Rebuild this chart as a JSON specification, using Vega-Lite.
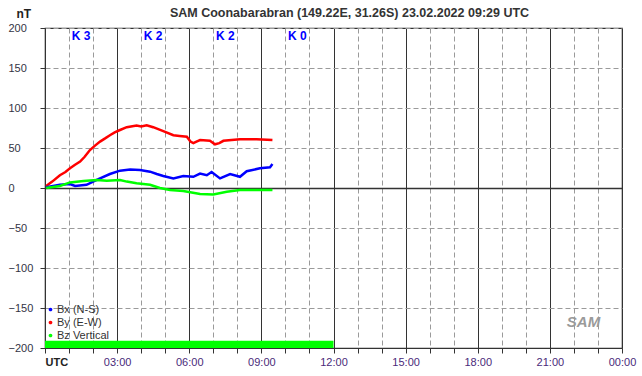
{
  "$schema": "https://vega.github.io/schema/vega-lite/v6.json",
  "width": 577,
  "height": 320,
  "autosize": {"type": "none"},
  "padding": {"left": 45, "top": 28, "right": 20, "bottom": 28},
  "background": "white",
  "title": {
    "text": "SAM Coonabarabran (149.22E, 31.26S) 23.02.2022 09:29 UTC",
    "anchor": "middle",
    "dx": 16,
    "offset": -12,
    "font": "Liberation Sans",
    "fontSize": 12.5,
    "fontWeight": "bold",
    "color": "#333333"
  },
  "config": {
    "view": {"stroke": "#333333", "strokeWidth": 1.2},
    "font": "Liberation Sans"
  },
  "datasets": {
    "series": [
      {"h": 0.05, "v": 2.5, "c": "By (E-W)"},
      {"h": 0.3, "v": 8, "c": "By (E-W)"},
      {"h": 0.62, "v": 16, "c": "By (E-W)"},
      {"h": 0.85, "v": 20, "c": "By (E-W)"},
      {"h": 1.04, "v": 24.6, "c": "By (E-W)"},
      {"h": 1.25, "v": 29, "c": "By (E-W)"},
      {"h": 1.46, "v": 33, "c": "By (E-W)"},
      {"h": 1.65, "v": 39, "c": "By (E-W)"},
      {"h": 1.87, "v": 47.5, "c": "By (E-W)"},
      {"h": 2.08, "v": 53, "c": "By (E-W)"},
      {"h": 2.29, "v": 58, "c": "By (E-W)"},
      {"h": 2.5, "v": 62, "c": "By (E-W)"},
      {"h": 2.7, "v": 66, "c": "By (E-W)"},
      {"h": 2.9, "v": 69.5, "c": "By (E-W)"},
      {"h": 3.12, "v": 72.5, "c": "By (E-W)"},
      {"h": 3.4, "v": 76, "c": "By (E-W)"},
      {"h": 3.81, "v": 78, "c": "By (E-W)"},
      {"h": 4.0, "v": 77, "c": "By (E-W)"},
      {"h": 4.23, "v": 78.5, "c": "By (E-W)"},
      {"h": 4.5, "v": 76, "c": "By (E-W)"},
      {"h": 4.92, "v": 71, "c": "By (E-W)"},
      {"h": 5.34, "v": 66, "c": "By (E-W)"},
      {"h": 5.6, "v": 65, "c": "By (E-W)"},
      {"h": 5.9, "v": 64, "c": "By (E-W)"},
      {"h": 6.05, "v": 58, "c": "By (E-W)"},
      {"h": 6.17, "v": 56, "c": "By (E-W)"},
      {"h": 6.3, "v": 58, "c": "By (E-W)"},
      {"h": 6.45, "v": 60, "c": "By (E-W)"},
      {"h": 6.86, "v": 59, "c": "By (E-W)"},
      {"h": 7.07, "v": 54.6, "c": "By (E-W)"},
      {"h": 7.25, "v": 56, "c": "By (E-W)"},
      {"h": 7.42, "v": 59, "c": "By (E-W)"},
      {"h": 8.11, "v": 61, "c": "By (E-W)"},
      {"h": 8.8, "v": 61, "c": "By (E-W)"},
      {"h": 9.46, "v": 60, "c": "By (E-W)"},
      {"h": 0.05, "v": 1, "c": "Bx (N-S)"},
      {"h": 0.62, "v": 4, "c": "Bx (N-S)"},
      {"h": 1.04, "v": 5, "c": "Bx (N-S)"},
      {"h": 1.25, "v": 2.5, "c": "Bx (N-S)"},
      {"h": 1.73, "v": 4, "c": "Bx (N-S)"},
      {"h": 2.0, "v": 8, "c": "Bx (N-S)"},
      {"h": 2.29, "v": 12, "c": "Bx (N-S)"},
      {"h": 2.7, "v": 17.5, "c": "Bx (N-S)"},
      {"h": 3.12, "v": 21.7, "c": "Bx (N-S)"},
      {"h": 3.54, "v": 23, "c": "Bx (N-S)"},
      {"h": 3.95, "v": 22.5, "c": "Bx (N-S)"},
      {"h": 4.37, "v": 20.4, "c": "Bx (N-S)"},
      {"h": 4.65, "v": 17.5, "c": "Bx (N-S)"},
      {"h": 4.92, "v": 15, "c": "Bx (N-S)"},
      {"h": 5.34, "v": 12, "c": "Bx (N-S)"},
      {"h": 5.75, "v": 15, "c": "Bx (N-S)"},
      {"h": 6.17, "v": 14, "c": "Bx (N-S)"},
      {"h": 6.45, "v": 18, "c": "Bx (N-S)"},
      {"h": 6.73, "v": 16, "c": "Bx (N-S)"},
      {"h": 6.93, "v": 20, "c": "Bx (N-S)"},
      {"h": 7.28, "v": 12, "c": "Bx (N-S)"},
      {"h": 7.7, "v": 17.5, "c": "Bx (N-S)"},
      {"h": 8.11, "v": 14, "c": "Bx (N-S)"},
      {"h": 8.39, "v": 21, "c": "Bx (N-S)"},
      {"h": 8.94, "v": 24.6, "c": "Bx (N-S)"},
      {"h": 9.36, "v": 26, "c": "Bx (N-S)"},
      {"h": 9.46, "v": 30, "c": "Bx (N-S)"},
      {"h": 0.05, "v": 0, "c": "Bz Vertical"},
      {"h": 0.62, "v": 2.5, "c": "Bz Vertical"},
      {"h": 1.04, "v": 7, "c": "Bz Vertical"},
      {"h": 1.6, "v": 8.75, "c": "Bz Vertical"},
      {"h": 2.15, "v": 10, "c": "Bz Vertical"},
      {"h": 2.57, "v": 9, "c": "Bz Vertical"},
      {"h": 3.12, "v": 10, "c": "Bz Vertical"},
      {"h": 3.4, "v": 8, "c": "Bz Vertical"},
      {"h": 3.81, "v": 6, "c": "Bz Vertical"},
      {"h": 4.37, "v": 4, "c": "Bz Vertical"},
      {"h": 4.78, "v": 0, "c": "Bz Vertical"},
      {"h": 5.2, "v": -2.5, "c": "Bz Vertical"},
      {"h": 5.75, "v": -3.75, "c": "Bz Vertical"},
      {"h": 6.45, "v": -7.5, "c": "Bz Vertical"},
      {"h": 7.0, "v": -8, "c": "Bz Vertical"},
      {"h": 7.56, "v": -4.6, "c": "Bz Vertical"},
      {"h": 8.11, "v": -2.5, "c": "Bz Vertical"},
      {"h": 8.8, "v": -2.5, "c": "Bz Vertical"},
      {"h": 9.46, "v": -2.5, "c": "Bz Vertical"}
    ],
    "klabels": [
      {"h": 1.5, "v": 190, "k": "K 3"},
      {"h": 4.5, "v": 190, "k": "K 2"},
      {"h": 7.5, "v": 190, "k": "K 2"},
      {"h": 10.5, "v": 190, "k": "K 0"}
    ],
    "bar": [
      {"h": 0, "h2": 12, "v": -200, "v2": -191}
    ],
    "logo": [
      {"h": 22.4, "v": -168, "t": "SAM"}
    ]
  },
  "encoding": {
    "x": {
      "field": "h",
      "type": "quantitative",
      "scale": {"domain": [0, 24], "nice": false, "zero": false},
      "axis": {
        "title": null,
        "values": [0,1,2,3,4,5,6,7,8,9,10,11,12,13,14,15,16,17,18,19,20,21,22,23,24],
        "grid": true,
        "gridColor": {"condition": {"test": "datum.value % 3 == 0", "value": "#333333"}, "value": "#9a9a9a"},
        "gridDash": {"condition": {"test": "datum.value % 3 == 0", "value": []}, "value": [5, 3]},
        "gridWidth": 1,
        "domainColor": "#333333",
        "tickColor": "#333333",
        "tickSize": 5,
        "labelExpr": "datum.value == 0 ? 'UTC' : (datum.value % 3 == 0 ? (datum.value == 24 ? '00:00' : (datum.value < 10 ? '0' : '') + datum.value + ':00') : '')",
        "labelAlign": {"condition": {"test": "datum.value == 0", "value": "left"}, "value": "center"},
        "labelFontWeight": {"condition": {"test": "datum.value == 0", "value": "bold"}, "value": "normal"},
        "labelColor": {"condition": {"test": "datum.value == 0", "value": "#222222"}, "value": "#4a2a7a"},
        "labelFont": "Liberation Sans",
        "labelFontSize": 11,
        "labelPadding": 3,
        "labelFlush": false,
        "labelOverlap": false
      }
    },
    "y": {
      "field": "v",
      "type": "quantitative",
      "scale": {"domain": [-200, 200], "nice": false, "zero": false},
      "axis": {
        "title": "nT",
        "titleAngle": 0,
        "titleAlign": "left",
        "titleBaseline": "middle",
        "titleX": -29,
        "titleY": -15,
        "titleFont": "Liberation Sans",
        "titleFontSize": 12,
        "titleFontWeight": "bold",
        "titleColor": "#222222",
        "values": [-200, -150, -100, -50, 0, 50, 100, 150, 200],
        "grid": true,
        "gridColor": {"condition": {"test": "datum.value == 0", "value": "#333333"}, "value": "#9a9a9a"},
        "gridDash": {"condition": {"test": "datum.value == 0", "value": []}, "value": [5, 3]},
        "gridWidth": {"condition": {"test": "datum.value == 0", "value": 1.5}, "value": 1},
        "domainColor": "#333333",
        "tickColor": "#333333",
        "tickSize": 5,
        "labelAlign": "left",
        "labelPadding": 32,
        "labelFont": "Liberation Sans",
        "labelFontSize": 11,
        "labelColor": "#333344",
        "labelFlush": false,
        "labelOverlap": false
      }
    }
  },
  "layer": [
    {
      "data": {"name": "bar"},
      "mark": {"type": "rect", "color": "#00ff00"},
      "encoding": {"x2": {"field": "h2"}, "y2": {"field": "v2"}}
    },
    {
      "data": {"name": "series"},
      "mark": {"type": "line", "strokeWidth": 2.5, "interpolate": "linear"},
      "encoding": {
        "color": {
          "field": "c",
          "type": "nominal",
          "scale": {"domain": ["Bx (N-S)", "By (E-W)", "Bz Vertical"], "range": ["#0000ff", "#ff0000", "#00ff00"]},
          "legend": {
            "title": null,
            "orient": "none",
            "legendX": 0,
            "legendY": 276,
            "padding": 0,
            "symbolType": "circle",
            "symbolSize": 3,
            "symbolStrokeWidth": 2,
            "labelFont": "Liberation Sans",
            "labelFontSize": 11,
            "labelColor": "#333333",
            "labelOffset": 1,
            "rowPadding": 1
          }
        },
        "order": {"field": "h"}
      }
    },
    {
      "data": {"name": "klabels"},
      "mark": {"type": "text", "color": "#0000ff", "fontWeight": "bold", "fontSize": 12, "font": "Liberation Sans", "align": "center", "baseline": "middle"},
      "encoding": {"text": {"field": "k"}}
    },
    {
      "data": {"name": "logo"},
      "mark": {"type": "text", "color": "#9a9a9a", "fontStyle": "italic", "fontWeight": "bold", "fontSize": 15, "font": "Liberation Sans", "align": "center", "baseline": "middle"},
      "encoding": {"text": {"field": "t"}}
    }
  ]
}
